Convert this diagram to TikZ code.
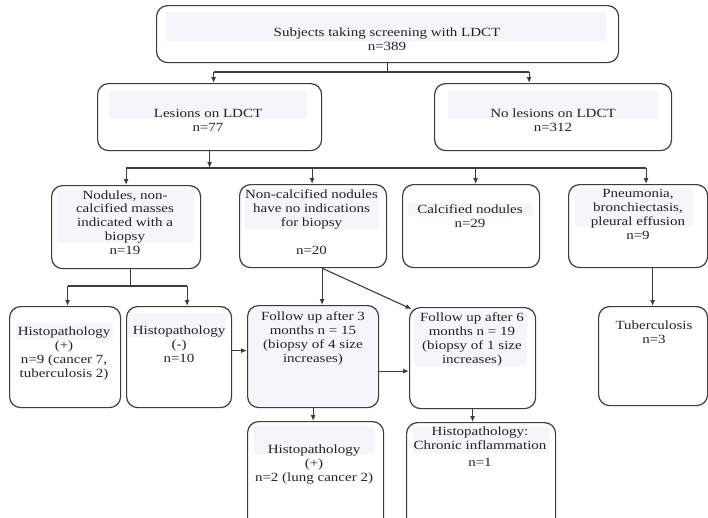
\documentclass[tikz,border=0pt]{standalone}
\usepackage{fontspec}
\setmainfont{Liberation Serif}[FakeStretch=1.2]
\usetikzlibrary{arrows.meta}
\definecolor{bord}{HTML}{3C3C3C}
\definecolor{shadecol}{HTML}{F4F6F9}
\definecolor{txt}{HTML}{222222}
\begin{document}
\begin{tikzpicture}[x=1pt,y=-1pt,
 box/.style={draw=bord,line width=1.2pt,rounded corners=11pt,fill=white,inner sep=0pt,anchor=north west,rectangle},
 lbl/.style={anchor=base,align=center,inner sep=0pt,text=txt,font=\fontsize{12.5}{13.7}\selectfont},
 arr/.style={draw=bord,line width=1.1pt,-{Latex[length=6pt,width=5pt]}},
 ln/.style={draw=bord,line width=1.1pt}]
\useasboundingbox (0,0) rectangle (708,517);
\clip (0,0) rectangle (708,517);
\fill[white] (0,0) rectangle (708,517);

% boxes
\node[box,minimum width=462pt,minimum height=57pt] (top) at (156,5) {};
\node[box,minimum width=224pt,minimum height=67pt] (les) at (97,83) {};
\node[box,minimum width=237pt,minimum height=67pt] (nol) at (434,83) {};
\node[box,minimum width=149pt,minimum height=83pt] (A) at (51,185) {};
\node[box,minimum width=147pt,minimum height=83pt] (B) at (239,184) {};
\node[box,minimum width=137pt,minimum height=83pt] (C) at (402,184) {};
\node[box,minimum width=139pt,minimum height=83pt] (D) at (568,184) {};
\node[box,minimum width=111pt,minimum height=101pt] (hpp) at (9,306) {};
\node[box,minimum width=105pt,minimum height=101pt] (hpm) at (126,306) {};
\node[box,minimum width=131pt,minimum height=102pt,fill=shadecol] (f3) at (247,305) {};
\node[box,minimum width=126pt,minimum height=101pt] (f6) at (409,307) {};
\node[box,minimum width=109pt,minimum height=99pt] (tub) at (598,306) {};
\node[box,minimum width=136pt,minimum height=120pt] (hp) at (247,421) {};
\node[box,minimum width=149pt,minimum height=120pt] (hc) at (406,422) {};

% light shading behind texts
\fill[shadecol] (166,12) rectangle (606,41);
\fill[shadecol] (109,91) rectangle (307,119);
\fill[shadecol] (448,91) rectangle (658,119);
\fill[shadecol] (57,190) rectangle (194,243);
\fill[shadecol] (245,188) rectangle (379,229);
\fill[shadecol] (408,203) rectangle (533,216);
\fill[shadecol] (575,188) rectangle (693,227);
\fill[shadecol] (16,323) rectangle (113,340);
\fill[shadecol] (128,313) rectangle (226,337);
\fill[shadecol] (414,311) rectangle (527,366);
\fill[shadecol] (254,426) rectangle (375,454);
\fill[shadecol] (413,427) rectangle (549,453);

% texts (anchor = baseline of the last line)
\node[lbl] (ttop) at (387,50.5) {Subjects taking screening with LDCT\\n=389};
\node[lbl] (tles) at (208,131) {Lesions on LDCT\\n=77};
\node[lbl] (tnol) at (553,131) {No lesions on LDCT\\n=312};
\node[lbl] (tA) at (125,254) {Nodules, non-\\calcified masses\\indicated with a\\biopsy\\n=19};
\node[lbl] (tB) at (311.5,226) {Non-calcified nodules\\have no indications\\for biopsy};
\node[lbl] (tB2) at (311.5,254) {n=20};
\node[lbl] (tC) at (470,227.5) {Calcified nodules\\n=29};
\node[lbl] (tD) at (638,239) {Pneumonia,\\bronchiectasis,\\pleural effusion\\n=9};
\node[lbl] (thpp) at (64,377) {Histopathology\\(+)\\n=9 (cancer 7,\\tuberculosis 2)};
\node[lbl] (thpm) at (179,362) {Histopathology\\(-)\\n=10};
\node[lbl] (tf3) at (313,362) {Follow up after 3\\months n = 15\\(biopsy of 4 size\\increases)};
\node[lbl] (tf6) at (472,363) {Follow up after 6\\months n = 19\\(biopsy of 1 size\\increases)};
\node[lbl] (ttub) at (654,343) {Tuberculosis\\n=3};
\node[lbl] (thp) at (314,481) {Histopathology\\(+)\\n=2 (lung cancer 2)};
\node[lbl] (thc) at (480,449.5) {Histopathology:\\Chronic inflammation};
\node[lbl] (thc2) at (480,466.5) {n=1};

% connectors
\coordinate (bus1) at (0,72);
\coordinate (bus2) at (0,168);
\coordinate (bus3) at (0,286);
\draw[ln] ([xshift=4pt]les.north |- bus1) -- ([xshift=-24pt]nol.north |- bus1);
\draw[ln] (top.south) -- (top.south |- bus1);
\draw[arr] ([xshift=4pt]les.north |- bus1) -- ([xshift=4pt]les.north);
\draw[arr] ([xshift=-24pt]nol.north |- bus1) -- ([xshift=-24pt]nol.north);

\draw[arr] (les.south) -- (les.south |- bus2);
\draw[ln] (A.north |- bus2) -- ([xshift=8pt]D.north |- bus2);
\draw[arr] (A.north |- bus2) -- (A.north);
\draw[arr] ([xshift=-1pt]B.north |- bus2) -- ([xshift=-1pt]B.north);
\draw[arr] ([xshift=4.5pt]C.north |- bus2) -- ([xshift=4.5pt]C.north);
\draw[arr] ([xshift=8pt]D.north |- bus2) -- ([xshift=8pt]D.north);

\draw[ln] ([xshift=4.5pt]A.south) -- ([xshift=4.5pt]A.south |- bus3);
\draw[ln] ([xshift=2.5pt]hpp.north |- bus3) -- ([xshift=8pt]hpm.north |- bus3);
\draw[arr] ([xshift=2.5pt]hpp.north |- bus3) -- ([xshift=2.5pt]hpp.north);
\draw[arr] ([xshift=8pt]hpm.north |- bus3) -- ([xshift=8pt]hpm.north);

\draw[arr] ([xshift=9pt]B.south) -- ([xshift=9pt]f3.north);
\draw[arr] ([xshift=9pt]B.south) -- ([shift={(2.5pt,-2pt)}]f6.north west);
\draw[arr] ([xshift=14.5pt]D.south) -- ([xshift=14.5pt]D.south |- tub.north);

\draw[arr] ([yshift=6.5pt]hpm.east) -- ([yshift=6.5pt]hpm.east -| f3.west);
\draw[arr] ([yshift=-14.5pt]f3.east) -- ([yshift=-14.5pt]f3.east -| f6.west);
\draw[arr] (f3.south) -- (f3.south |- hp.north);
\draw[arr] (f6.south) -- (f6.south |- hc.north);
\end{tikzpicture}
\end{document}
